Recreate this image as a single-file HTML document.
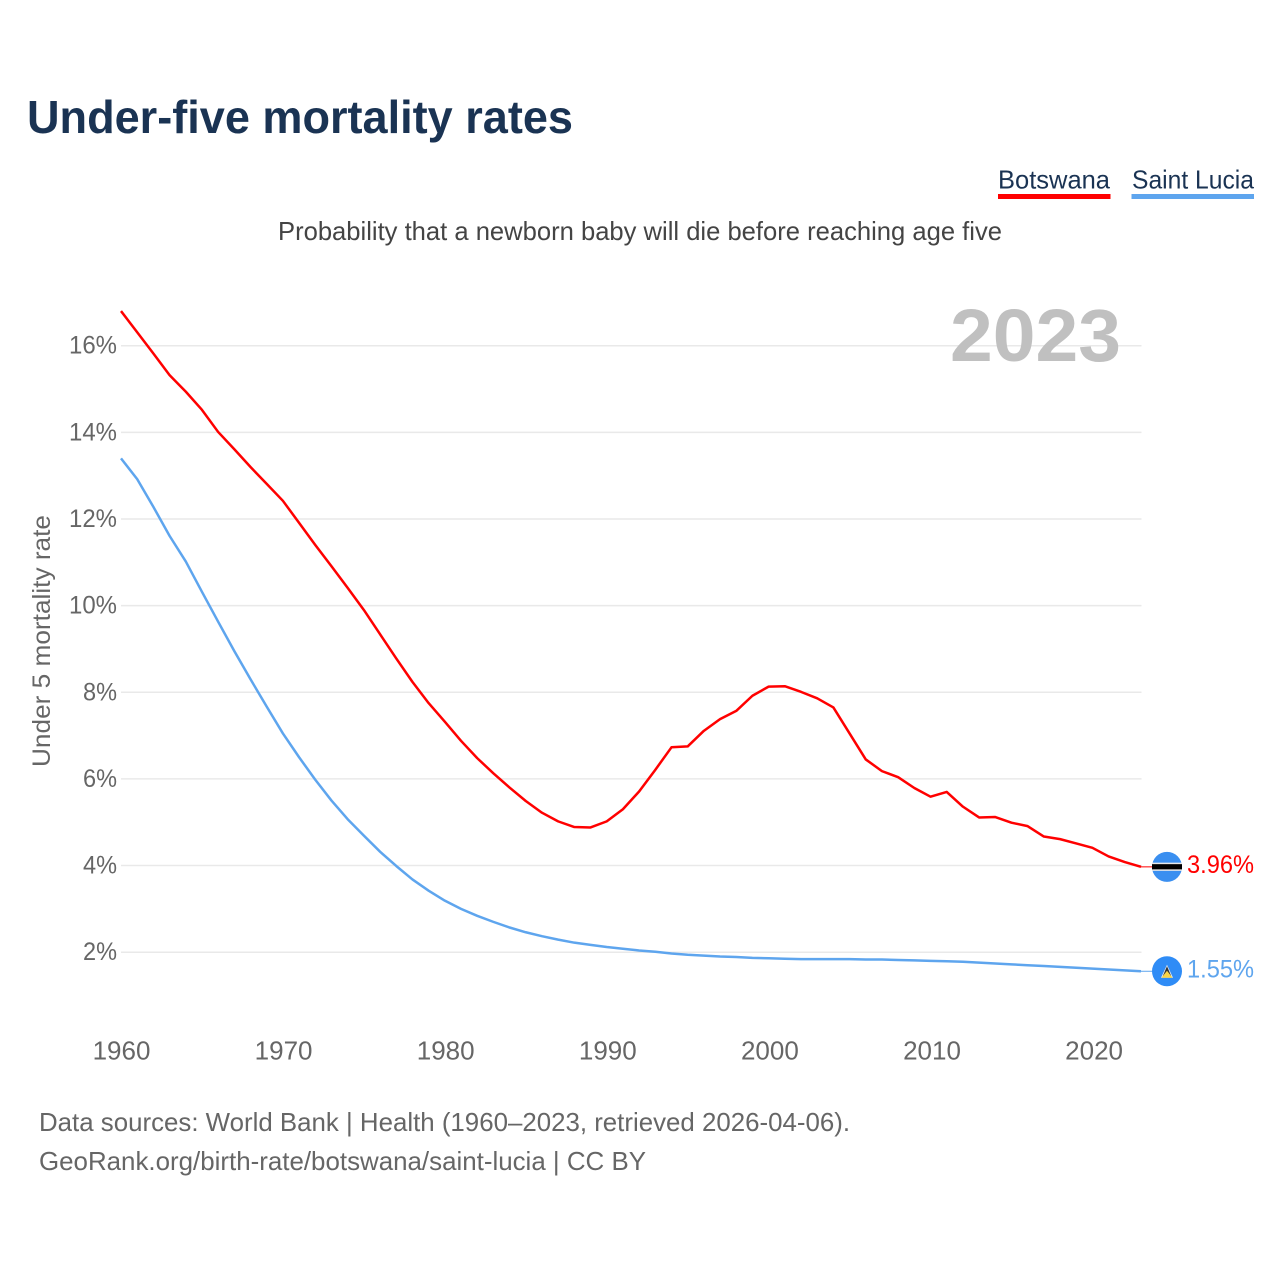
<!DOCTYPE html>
<html lang="en">
<head>
<meta charset="utf-8">
<title>Under-five mortality rates</title>
<style>
html,body{margin:0;padding:0;background:#fff;}
svg{display:block;}
text{font-family:"Liberation Sans",sans-serif;}
</style>
</head>
<body>
<svg id="chart" xmlns="http://www.w3.org/2000/svg" width="1280" height="1280" viewBox="0 0 1280 1280">
  <rect x="0" y="0" width="1280" height="1280" fill="#ffffff"/>
  <text x="27" y="133" font-size="46" font-weight="700" fill="#1a3353" textLength="546" lengthAdjust="spacingAndGlyphs">Under-five mortality rates</text>

  <g>
    <text x="998" y="188.5" font-size="26" fill="#1a3353" textLength="112" lengthAdjust="spacingAndGlyphs">Botswana</text>
    <rect x="998" y="194" width="112.5" height="5" fill="#ff0000"/>
  </g>
  <g>
    <text x="1132" y="188.5" font-size="26" fill="#1a3353" textLength="122" lengthAdjust="spacingAndGlyphs">Saint Lucia</text>
    <rect x="1131.5" y="194" width="122.5" height="5" fill="#5ea5ee"/>
  </g>

  <text x="278" y="240" font-size="26" fill="#444444" textLength="724" lengthAdjust="spacingAndGlyphs">Probability that a newborn baby will die before reaching age five</text>

  <g id="grid"></g>
  <text x="950" y="361" font-size="74" font-weight="700" fill="#c0c0c0" textLength="171" lengthAdjust="spacingAndGlyphs">2023</text>
  <g id="yticks"></g>
  <g id="xticks"></g>
  <text transform="translate(50,767) rotate(-90)" x="0" y="0" font-size="25" fill="#666666" textLength="252" lengthAdjust="spacingAndGlyphs">Under 5 mortality rate</text>
  <g id="series"></g>
  <g id="markers"></g>

  <text x="39" y="1131" font-size="26" fill="#666666" textLength="811" lengthAdjust="spacingAndGlyphs">Data sources: World Bank | Health (1960–2023, retrieved 2026-04-06).</text>
  <text x="39" y="1170" font-size="26" fill="#666666" textLength="607" lengthAdjust="spacingAndGlyphs">GeoRank.org/birth-rate/botswana/saint-lucia | CC BY</text>
</svg>
<script>
const startYear = 1960;
const xTickLabels = [1960, 1970, 1980, 1990, 2000, 2010, 2020];
const yTickValues = [2, 4, 6, 8, 10, 12, 14, 16];
const botswana = [
  16.80, 16.31, 15.82, 15.32, 14.94, 14.52, 14.01, 13.61, 13.20, 12.81,
  12.42, 11.91, 11.40, 10.91, 10.41, 9.90, 9.34, 8.78, 8.24, 7.75,
  7.32, 6.88, 6.48, 6.13, 5.80, 5.49, 5.22, 5.02, 4.89, 4.88,
  5.02, 5.30, 5.71, 6.21, 6.73, 6.75, 7.11, 7.38, 7.57, 7.92,
  8.13, 8.14, 8.01, 7.86, 7.65, 7.05, 6.45, 6.18, 6.04, 5.79,
  5.59, 5.70, 5.36, 5.11, 5.12, 4.99, 4.91, 4.67, 4.61, 4.51,
  4.41, 4.21, 4.08, 3.97
];
const saintLucia = [
  13.40, 12.92, 12.28, 11.61, 11.02, 10.32, 9.63, 8.95, 8.30, 7.67,
  7.05, 6.50, 5.98, 5.50, 5.07, 4.69, 4.32, 3.99, 3.68, 3.42,
  3.19, 3.00, 2.84, 2.70, 2.57, 2.46, 2.37, 2.29, 2.22, 2.17,
  2.12, 2.08, 2.04, 2.01, 1.97, 1.94, 1.92, 1.90, 1.89, 1.87,
  1.86, 1.85, 1.84, 1.84, 1.84, 1.84, 1.83, 1.83, 1.82, 1.81,
  1.80, 1.79, 1.78, 1.76, 1.74, 1.72, 1.70, 1.68, 1.66, 1.64,
  1.62, 1.60, 1.58, 1.56
];
const botswanaEndLabel = "3.96%";
const saintLuciaEndLabel = "1.55%";

const NS = "http://www.w3.org/2000/svg";
const plotLeft = 121, plotRight = 1141;
function xScale(year) { return plotLeft + (year - startYear) * (plotRight - plotLeft) / 63; }
function xLabelScale(year) { return 121.5 + (year - startYear) * 16.21; }
function yScale(v) { return 1038.84 - v * 43.32; }
function make(tag, attrs, parent, text) {
  const el = document.createElementNS(NS, tag);
  for (const k in attrs) el.setAttribute(k, attrs[k]);
  if (text !== undefined) el.textContent = text;
  parent.appendChild(el);
  return el;
}
const grid = document.getElementById("grid");
const yticks = document.getElementById("yticks");
const xticks = document.getElementById("xticks");
const seriesG = document.getElementById("series");
const markers = document.getElementById("markers");

yTickValues.forEach(function (v) {
  const line = make("line", {x1: plotLeft, x2: plotRight + 0.5, y1: yScale(v), y2: yScale(v), stroke: "#e9e9e9", "stroke-width": 1.5}, grid);
  
  
  const label = v + "%";
  const t = make("text", {x: 117, y: yScale(v) + 8, "text-anchor": "end", "font-size": 25, fill: "#666666", textLength: label.length === 3 ? 48 : 34, lengthAdjust: "spacingAndGlyphs"}, yticks, label);
  
  
});

xTickLabels.forEach(function (yr) {
  const t = make("text", {x: xLabelScale(yr), y: 1059.5, "text-anchor": "middle", "font-size": 26, fill: "#666666"}, xticks, String(yr));
  
  
});

function pathFor(values) {
  return values.map(function (v, i) {
    return (i ? "L" : "M") + xScale(startYear + i).toFixed(2) + " " + yScale(v).toFixed(2);
  }).join(" ");
}

const lineSaintLucia = make("path", {d: pathFor(saintLucia), fill: "none", stroke: "#5ea5ee", "stroke-width": 2.5, "stroke-linejoin": "round"}, seriesG);


const lineBotswana = make("path", {d: pathFor(botswana), fill: "none", stroke: "#ff0000", "stroke-width": 2.5, "stroke-linejoin": "round"}, seriesG);



const yB = yScale(botswana[botswana.length - 1]);
const yS = yScale(saintLucia[saintLucia.length - 1]);

const leaderB = make("line", {x1: plotRight, x2: 1152, y1: yB, y2: yB, stroke: "#ff0000", "stroke-width": 1}, markers);


const leaderS = make("line", {x1: plotRight, x2: 1152, y1: yS, y2: yS, stroke: "#5ea5ee", "stroke-width": 1}, markers);



const flagB = make("g", {transform: "translate(1167," + yB + ")"}, markers);


make("circle", {cx: 0, cy: 0, r: 15, fill: "#3a8ff0"}, flagB);
make("rect", {x: -14.7, y: -4.2, width: 29.4, height: 8.2, fill: "#e8e8e8"}, flagB);
make("rect", {x: -15, y: -2.7, width: 30, height: 5.2, fill: "#000000"}, flagB);

const flagS = make("g", {transform: "translate(1167," + yS + ")"}, markers);


make("circle", {cx: 0, cy: 0, r: 15, fill: "#2f8cf6"}, flagS);
make("polygon", {points: "0,-6.5 6,6.5 -6,6.5", fill: "#e8eef5"}, flagS);
make("polygon", {points: "0,-5 4.3,5 -4.3,5", fill: "#333333"}, flagS);
make("polygon", {points: "0,-0.5 5.5,6.5 -5.5,6.5", fill: "#f8d448"}, flagS);

const labelB = make("text", {x: 1254, y: yB + 6, "text-anchor": "end", "font-size": 25, fill: "#ff0000", textLength: 67, lengthAdjust: "spacingAndGlyphs"}, markers, botswanaEndLabel);


const labelS = make("text", {x: 1254, y: yS + 6, "text-anchor": "end", "font-size": 25, fill: "#5ea5ee", textLength: 67, lengthAdjust: "spacingAndGlyphs"}, markers, saintLuciaEndLabel);


</script>
</body>
</html>
